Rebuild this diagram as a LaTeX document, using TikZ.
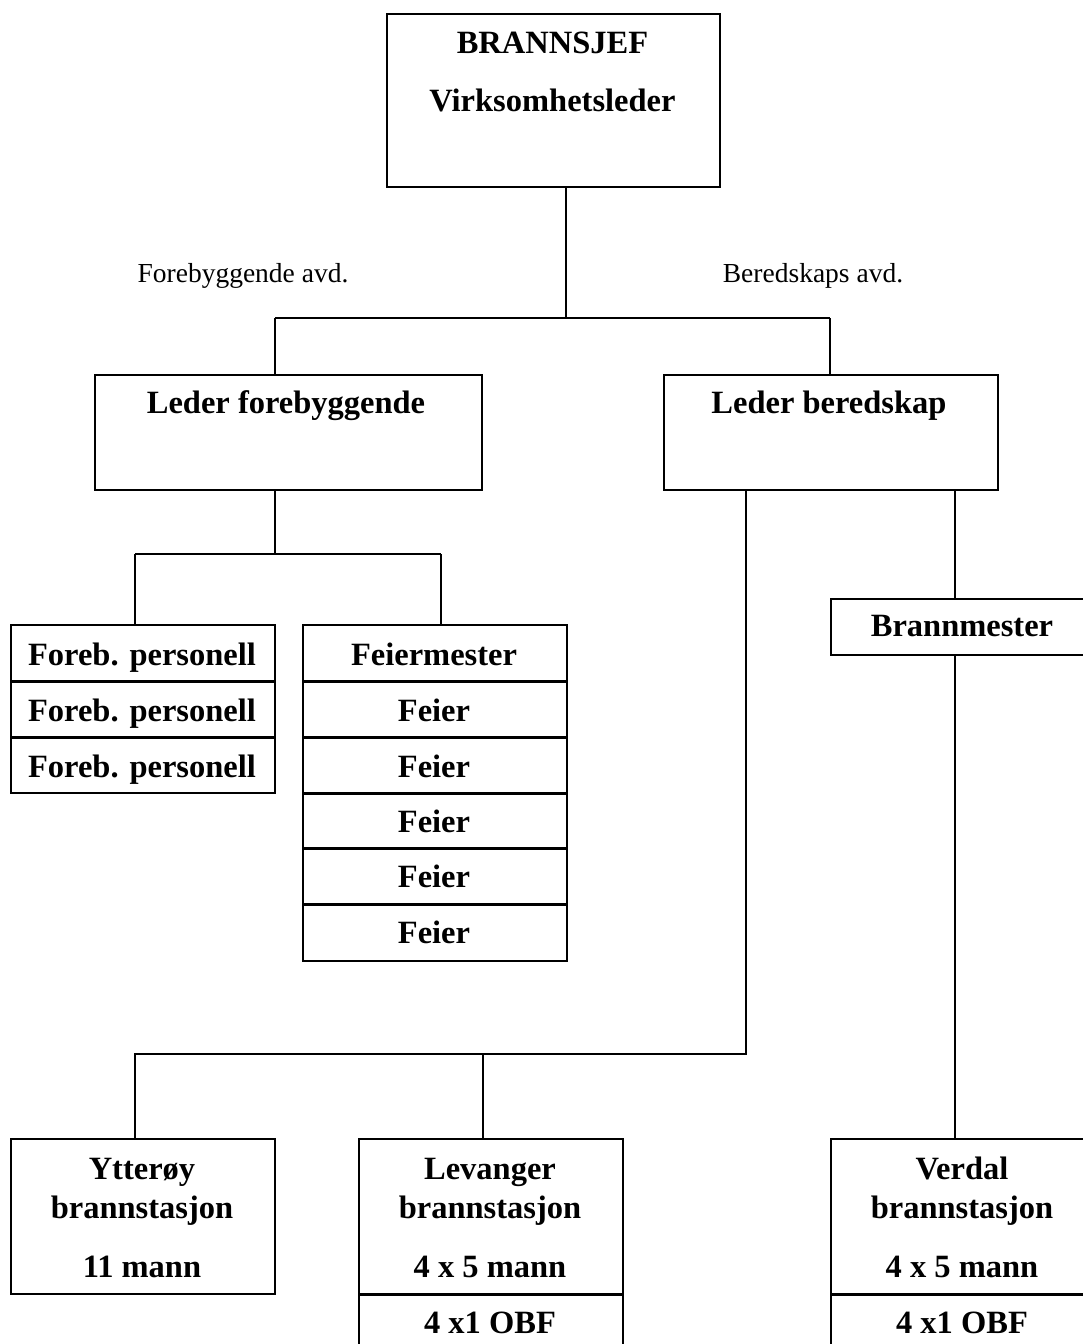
\documentclass[tikz,border=0pt]{standalone}
\usepackage{fontspec}
\setmainfont{Liberation Serif}
\begin{document}
\begin{tikzpicture}[x=1pt,y=-1pt,
  box/.style={draw, line width=1.5pt, rectangle, inner sep=0, anchor=north west},
  sep/.style={line width=3.2pt},
  conn/.style={line width=1.5pt},
  lbl/.style={font=\fontsize{32.5}{38}\selectfont\bfseries, anchor=base, inner sep=0},
  dept/.style={font=\fontsize{27.5}{30}\selectfont, anchor=base, inner sep=0}]
\useasboundingbox (0,0) rectangle (1083,1344);
\clip (0,0) rectangle (1083,1344);
\fill[white] (0,0) rectangle (1083,1344);

% boxes
\node[box, minimum width=333pt, minimum height=173pt] (top) at (386,13) {};
\node[box, minimum width=387pt, minimum height=115pt] (lf) at (94,374) {};
\node[box, minimum width=334pt, minimum height=115pt] (lb) at (663,374) {};
\node[box, minimum width=264pt, minimum height=56pt] (bm) at (830,598) {};

\node[box, minimum width=264pt, minimum height=56pt] (fp1) at (10,624) {};
\node[box, minimum width=264pt, minimum height=56pt] (fp2) at (10,680) {};
\node[box, minimum width=264pt, minimum height=56pt] (fp3) at (10,736) {};

\node[box, minimum width=264pt, minimum height=56pt] (fm1) at (302,624) {};
\node[box, minimum width=264pt, minimum height=56pt] (fm2) at (302,680) {};
\node[box, minimum width=264pt, minimum height=56pt] (fm3) at (302,736) {};
\node[box, minimum width=264pt, minimum height=55pt] (fm4) at (302,792) {};
\node[box, minimum width=264pt, minimum height=56pt] (fm5) at (302,847) {};
\node[box, minimum width=264pt, minimum height=57pt] (fm6) at (302,903) {};

\node[box, minimum width=264pt, minimum height=155pt] (yt) at (10,1138) {};
\node[box, minimum width=264pt, minimum height=155pt] (lv) at (358,1138) {};
\node[box, minimum width=264pt, minimum height=70pt] (lv2) at (358,1293) {};
\node[box, minimum width=264pt, minimum height=155pt] (vd) at (830,1138) {};
\node[box, minimum width=264pt, minimum height=70pt] (vd2) at (830,1293) {};

% thick separators
\foreach \n in {fp1,fp2,fm1,fm2,fm3,fm4,fm5,lv,vd}
  \draw[sep] (\n.south west) -- (\n.south east);

% texts
\node[lbl] (tt1) at (552.5,53) {BRANNSJEF};
\node[lbl] (tt2) at (552.5,111) {Virksomhetsleder};
\node[dept] (dl) at (243,282) {Forebyggende avd.};
\node[dept] (dr) at (813,282) {Beredskaps avd.};
\node[lbl] (tlf) at (286,413) {Leder forebyggende};
\node[lbl] (tlb) at (829,413) {Leder beredskap};
\node[lbl] (tbm) at (962,636) {Brannmester};
\node[lbl] (tfp1) at (142,665) {Foreb. personell};
\node[lbl] (tfp2) at (142,721) {Foreb. personell};
\node[lbl] (tfp3) at (142,777) {Foreb. personell};
\node[lbl] (tfm1) at (434,665) {Feiermester};
\node[lbl] (tfm2) at (434,721) {Feier};
\node[lbl] (tfm3) at (434,777) {Feier};
\node[lbl] (tfm4) at (434,832) {Feier};
\node[lbl] (tfm5) at (434,887) {Feier};
\node[lbl] (tfm6) at (434,943) {Feier};
\node[lbl] (ty1) at (142,1179) {Ytterøy};
\node[lbl] (ty2) at (142,1218) {brannstasjon};
\node[lbl] (ty3) at (142,1277) {11 mann};
\node[lbl] (tl1) at (490,1179) {Levanger};
\node[lbl] (tl2) at (490,1218) {brannstasjon};
\node[lbl] (tl3) at (490,1277) {4 x 5 mann};
\node[lbl] (tl4) at (490,1333) {4 x1 OBF};
\node[lbl] (tv1) at (962,1179) {Verdal};
\node[lbl] (tv2) at (962,1218) {brannstasjon};
\node[lbl] (tv3) at (962,1277) {4 x 5 mann};
\node[lbl] (tv4) at (962,1333) {4 x1 OBF};

% junction coordinates
\coordinate (j1) at (566,318);
\coordinate (j1l) at (275,318);
\coordinate (j1r) at (830,318);
\coordinate (j2) at (275,554);
\coordinate (j2l) at (135,554);
\coordinate (j2r) at (441,554);
\coordinate (j3) at (746,1054);
\coordinate (j3l) at (135,1054);
\coordinate (j3m) at (483,1054);
\coordinate (j4) at (955,540);

% connectors
\draw[conn] (top.south -| j1) -- (j1);
\draw[conn] (j1l) -- (j1r);
\draw[conn] (j1l) -- (lf.north -| j1l);
\draw[conn] (j1r) -- (lb.north -| j1r);

\draw[conn] (lf.south -| j2) -- (j2);
\draw[conn] (j2l) -- (j2r);
\draw[conn] (j2l) -- (fp1.north -| j2l);
\draw[conn] (j2r) -- (fm1.north -| j2r);

\draw[conn] (lb.south -| j3) -- (j3) -- (j3l) -- (yt.north -| j3l);
\draw[conn] (j3m) -- (lv.north -| j3m);

\draw[conn] (lb.south -| j4) -- (bm.north -| j4);
\draw[conn] (bm.south -| j4) -- (vd.north -| j4);
\end{tikzpicture}
\end{document}
